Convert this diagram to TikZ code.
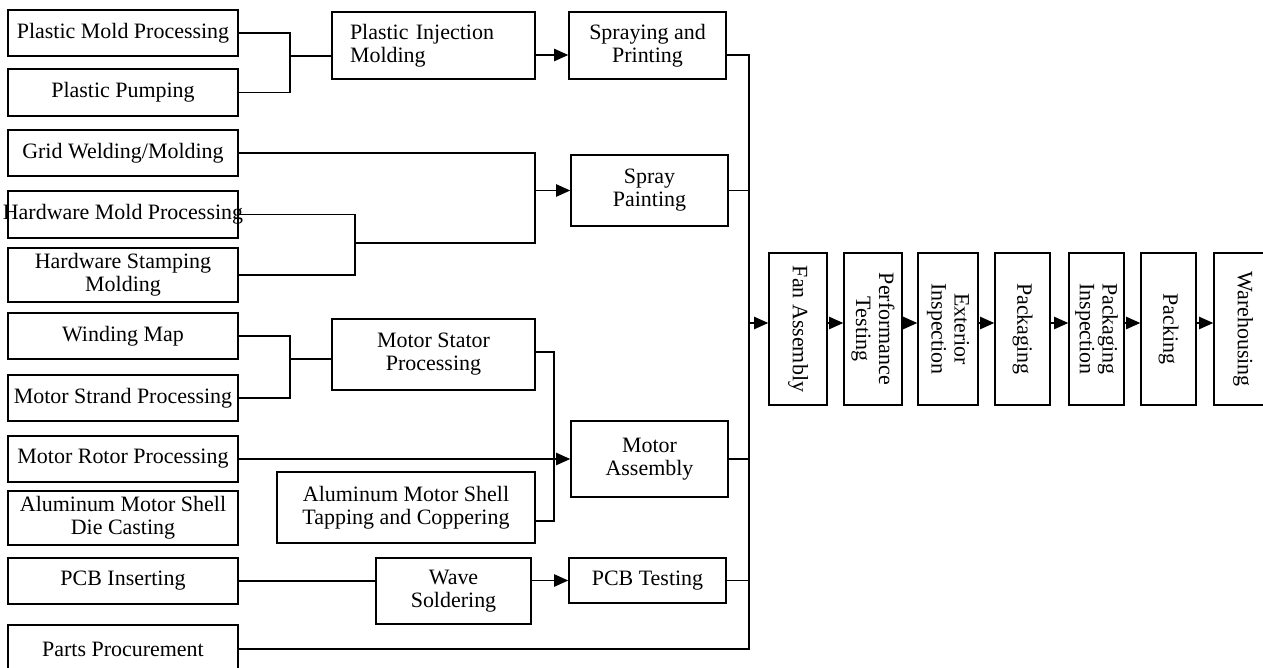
\documentclass[tikz,border=0pt]{standalone}
\usepackage{fontspec}
\setmainfont{Liberation Serif}
\usepackage{tikz}
\usetikzlibrary{arrows.meta,calc}
\tikzset{>={Triangle[length=8pt,width=7pt]}}
\tikzset{stage/.style={draw, line width=0.9pt, align=center, inner sep=0pt,
                       font=\fontsize{12.5pt}{13pt}\selectfont},
         link/.style={line width=0.8pt},
         flow/.style={line width=0.8pt, ->}}
% boxes given by their pixel corners (x1,y1,x2,y2)
\def\stage[#1](#2)(#3,#4,#5,#6)#7{\node[stage, #1, minimum width={(#5-#3)*0.02cm}, minimum height={(#6-#4)*0.02cm}] (#2) at ({(#3+#5)/2},{(#4+#6)/2}) {#7};}
\def\vstage[#1](#2)(#3,#4,#5,#6)#7{\node[stage, rotate=-90, #1, minimum width={(#6-#4)*0.02cm}, minimum height={(#5-#3)*0.02cm}] (#2) at ({(#3+#5)/2},{(#4+#6)/2}) {#7};}

\begin{document}
\begin{tikzpicture}[x=0.02cm, y=-0.02cm]
                \clip (0,0) rectangle (1263,668);

                % Raw processes
                \stage[](pmold)(8,10,238,56){Plastic Mold Processing}
                \stage[](ppump)(8,69,238,116){Plastic Pumping}
                \stage[](grid)(8,130,238,176){Grid Welding/Molding}
                \stage[](hmold)(8,191,238,238){\makebox[0pt]{Hardware Mold Processing}}
                \stage[](hstamp)(8,248,238,302){Hardware Stamping\\Molding}
                \stage[](wind)(8,313,238,359){Winding Map}
                \stage[](strand)(8,375,238,421){Motor Strand Processing}
                \stage[](rotor)(8,436,238,482){Motor Rotor Processing}
                \stage[](diecast)(8,491,238,545){Aluminum Motor Shell\\Die Casting}
                \stage[](pcbi)(8,558,238,604){PCB Inserting}
                \stage[](parts)(8,625,238,673){Parts Procurement}

                % Intermediate processes
                \stage[align=left, text width=3.34cm](inj)(332,12,535,79){Plastic Injection\\Molding}
                \stage[](stator)(332,319,535,390){Motor Stator\\Processing}
                \stage[](tap)(277,472,535,543){Aluminum Motor Shell\\Tapping and Coppering}
                \stage[](wave)(376,558,531,624){Wave\\Soldering}
                \stage[](spp)(569,12,726,79){Spraying and\\Printing}
                \stage[](spaint)(571,155,728,226){Spray\\Painting}
                \stage[](massy)(571,421,728,497){Motor\\Assembly}
                \stage[](pcbt)(569,558,726,603){PCB Testing}

                % Final line
                \vstage[](fan)(769,253,827,405){Fan Assembly}
                \vstage[](perf)(844,253,902,405){Performance\\Testing}
                \vstage[](ext)(918,253,978,405){Exterior\\Inspection}
                \vstage[](pack)(995,253,1050,405){Packaging}
                \vstage[](pins)(1069,253,1124,405){Packaging\\Inspection}
                \vstage[](packing)(1141,253,1196,405){Packing}
                \vstage[](ware)(1214,253,1272,405){Warehousing}

                % Junctions
                \coordinate (jp) at (290,56);
                \coordinate (a1) at (0,55);
                \coordinate (jh) at (355,243);
                \coordinate (jg) at (535,0);
                \coordinate (jw) at (290,359);
                \coordinate (jm) at (554,352);
                \coordinate (jm2) at (554,521);
                \coordinate (tr) at (749,0);
                \coordinate (row) at (0,323);

                % Plastic branch
                \draw[link] (pmold.east) -- (pmold.east -| jp) -- (ppump.east -| jp) -- (ppump.east);
                \draw[link] (jp) -- (jp -| inj.west);
                \draw[flow] (inj.east |- a1) -- (spp.west |- a1);

                % Hardware branch
                \draw[link] (hmold.east) -- (hmold.east -| jh) -- (hstamp.east -| jh) -- (hstamp.east);
                \draw[link] (grid.east) -- (grid.east -| jg) -- (jg |- jh) -- (jh);
                \draw[flow] (jg |- spaint.west) -- (spaint.west);

                % Motor branch
                \draw[link] (wind.east) -- (wind.east -| jw) -- (strand.east -| jw) -- (strand.east);
                \draw[link] (jw) -- (jw -| stator.west);
                \draw[link] (stator.east |- jm) -- (jm) -- (jm2) -- (jm2 -| tap.east);
                \draw[flow] (rotor.east) -- (rotor.east -| massy.west);

                % PCB branch
                \draw[link] (pcbi.east) -- (pcbi.east -| wave.west);
                \draw[flow] (wave.east |- pcbt.west) -- (pcbt.west);

                % Trunk into fan assembly
                \draw[link] (spp.east |- a1) -- (tr |- a1) -- (tr |- parts.east) -- (parts.east);
                \draw[link] (spaint.east) -- (spaint.east -| tr);
                \draw[link] (massy.east) -- (massy.east -| tr);
                \draw[link] (pcbt.east) -- (pcbt.east -| tr);
                \draw[flow] (tr |- row) -- (fan.south |- row);
                \foreach \a/\b in {fan/perf, perf/ext, ext/pack, pack/pins, pins/packing, packing/ware}
                    \draw[flow] (\a.north |- row) -- (\b.south |- row);
\end{tikzpicture}
\end{document}
